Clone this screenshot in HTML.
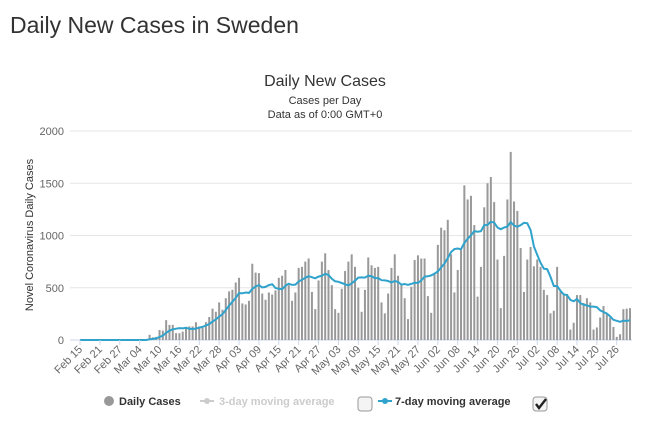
<!DOCTYPE html>
<html><head><meta charset="utf-8"><style>
body{margin:0;background:#fff;font-family:"Liberation Sans",sans-serif;}
#wrap{position:relative;width:648px;height:429px;overflow:hidden;}
</style></head><body>
<div id="wrap">
<svg id="svg" width="648" height="429" xmlns="http://www.w3.org/2000/svg">
<text x="10" y="33" font-size="23" fill="#333">Daily New Cases in Sweden</text>
<text x="325" y="86" font-size="16" fill="#333" text-anchor="middle">Daily New Cases</text>
<text x="325" y="104" font-size="11" fill="#333" text-anchor="middle">Cases per Day</text>
<text x="325" y="118" font-size="11" fill="#333" text-anchor="middle">Data as of 0:00 GMT+0</text>
<text transform="translate(33,235) rotate(-90)" font-size="11" fill="#333" text-anchor="middle">Novel Coronavirus Daily Cases</text>
<g id="grid"></g><g id="bars"></g><g id="line"></g><g id="xlabels"></g>
<g>
<g><circle cx="109" cy="401" r="5" fill="#999"/><text x="119" y="405" font-size="11" font-weight="bold" fill="#333">Daily Cases</text></g>
<g><line x1="200" y1="401" x2="214" y2="401" stroke="#ccc" stroke-width="2"/><circle cx="207" cy="401" r="3" fill="#ccc"/><text x="219" y="405" font-size="11" font-weight="bold" fill="#ccc">3-day moving average</text></g>
<rect x="358" y="397" width="14" height="14" rx="3" fill="#f4f4f4" stroke="#999"/>
<g><line x1="378" y1="401" x2="392" y2="401" stroke="#2fa3cc" stroke-width="2"/><circle cx="385" cy="401" r="3" fill="#2fa3cc"/><text x="395" y="405" font-size="11" font-weight="bold" fill="#333">7-day moving average</text></g>
<g><rect x="533" y="397" width="14" height="14" rx="3" fill="#f4f4f4" stroke="#999"/><path d="M536 404 l3 4 l7 -9" stroke="#222" stroke-width="2.4" fill="none"/></g>
</g>
</svg></div>
<script>
const startDate = new Date(2020,1,15);
const leadingZeros = 21;
const dailyCases = [
50,25,30,95,90,190,145,145,65,65,80,125,130,130,170,130,115,170,220,300,270,360,290,400,465,480,550,595,350,340,375,730,645,640,445,385,455,435,475,595,615,670,525,375,455,690,700,750,780,460,295,570,750,830,670,525,295,260,
490,660,750,820,700,500,270,480,790,715,690,700,360,255,445,690,820,615,525,400,200,510,765,810,780,780,420,260,630,910,1075,1050,1150,820,455,670,865,1480,1345,1380,1100,415,700,1270,1500,1560,1320,770,305,805,1345,1800,1325,1235,880,460,770,890,705,770,700,480,430,255,280,700,465,445,440,100,165,430,430,355,400,360,100,120,215,325,255,215,125,30,55,295,300,305];
const yTicks = [0,500,1000,1500,2000];
const values = new Array(leadingZeros).fill(0).concat(dailyCases);
const N = values.length;
const x0=80, x1=630, yBase=340, yTop=131;
const X = i => x0 + i*(x1-x0)/(N-1);
const Y = v => yBase - v*(yBase-yTop)/2000;
const NS="http://www.w3.org/2000/svg";
function mk(tag,attrs,parent){const e=document.createElementNS(NS,tag);for(const k in attrs)e.setAttribute(k,attrs[k]);parent.appendChild(e);return e;}
const grid=document.getElementById('grid');
yTicks.forEach(t=>{
  const l=mk('line',{x1:70,x2:632,y1:Y(t),y2:Y(t),stroke:t===0?'#ccd6eb':'#e6e6e6','stroke-width':1},grid);
  
  
  const tx=mk('text',{x:64,y:Y(t)+4,'font-size':11,fill:'#666','text-anchor':'end'},grid);
  tx.textContent=t;
  
  
});
const bars=document.getElementById('bars');
values.forEach((v,i)=>{
  if(v<=0)return;
  const r=mk('rect',{x:X(i)-1,y:Y(v),width:2,height:yBase-Y(v),fill:'#999'},bars);
  
  
});
const ma=values.map((v,i)=>{let s=0,c=0;for(let j=Math.max(0,i-6);j<=i;j++){s+=values[j];c++;}return s/c;});
const lp=mk('path',{d:ma.map((v,i)=>(i?'L':'M')+X(i).toFixed(1)+' '+Y(v).toFixed(1)).join(' '),fill:'none',stroke:'#2fa3cc','stroke-width':2},document.getElementById('line'));


const months=['Jan','Feb','Mar','Apr','May','Jun','Jul','Aug'];
const xl=document.getElementById('xlabels');
for(let i=0;i<N;i+=6){
  const d=new Date(startDate.getTime());d.setDate(d.getDate()+i);
  const lab=months[d.getMonth()]+' '+String(d.getDate()).padStart(2,'0');
  const tk=mk('line',{x1:X(i),x2:X(i),y1:340,y2:345,stroke:'#ccd6eb'},xl);
  
  
  const t=mk('text',{transform:`translate(${X(i)+3},${350}) rotate(-45)`,'font-size':11,fill:'#666','text-anchor':'end'},xl);
  t.textContent=lab;
  
  
}
</script>
</body></html>
